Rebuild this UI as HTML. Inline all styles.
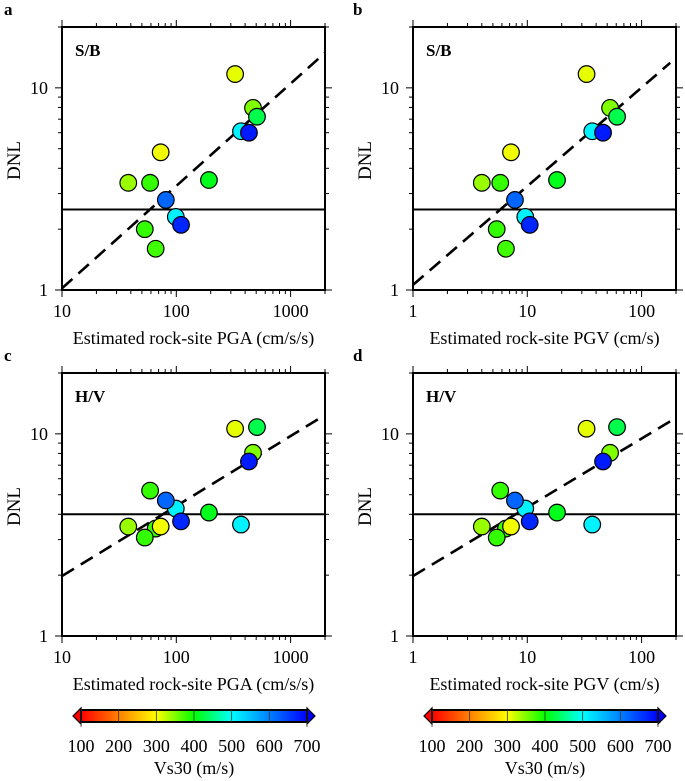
<!DOCTYPE html>
<html><head><meta charset="utf-8">
<style>
html,body{margin:0;padding:0;background:#fff;}
svg{display:block;}
svg text{font-family:"Liberation Serif","DejaVu Serif",serif;}
</style></head>
<body>
<svg id="fig" width="685" height="781" viewBox="0 0 685 781" xmlns="http://www.w3.org/2000/svg" font-family="Liberation Serif, serif"></svg>
<script>
// ---- data ----
const pga = [327, 469, 508, 368, 432, 73, 38, 59, 193, 81, 99, 110, 53, 66];
const pgv = [33, 53, 61, 37, 46, 7.2, 4.0, 5.8, 18.2, 7.8, 9.6, 10.5, 5.4, 6.5];
const dnlSB = [11.7, 7.96, 7.2, 6.1, 6.0, 4.8, 3.39, 3.39, 3.5, 2.79, 2.3, 2.1, 2.0, 1.6];
const dnlHV = [10.6, 8.06, 10.8, 3.56, 7.3, 3.48, 3.48, 5.24, 4.08, 4.68, 4.27, 3.69, 3.07, 3.4];
const vs30 = [310, 350, 430, 510, 680, 305, 340, 380, 410, 620, 510, 670, 380, 375];
const thrSB = 2.5, thrHV = 4.0;
const fitA = [[10, 1.02], [2000, 14.9]];
const fitB = [[1, 1.06], [178, 13.3]];
const fitC = [[10, 1.98], [2000, 12.4]];
const fitD = [[1, 1.98], [200, 12.0]];
const cbTicks = [100, 200, 300, 400, 500, 600, 700];

const NS = "http://www.w3.org/2000/svg";
const svg = document.getElementById('fig');
function mk(tag, attrs, parent) {
  const e = document.createElementNS(NS, tag);
  if (tag === 'text') e.setAttribute('font-family', '"Liberation Serif", serif');
  for (const k in attrs) e.setAttribute(k, attrs[k]);
  (parent || svg).appendChild(e);
  return e;
}
function cmap(v) {
  const stops = [[100,[255,0,0]],[200,[255,128,0]],[300,[255,255,0]],[400,[0,255,0]],[500,[0,255,255]],[600,[0,128,255]],[700,[0,0,255]]];
  v = Math.max(100, Math.min(700, v));
  for (let i = 0; i < stops.length - 1; i++) {
    const [a, ca] = stops[i], [b, cb] = stops[i+1];
    if (v <= b) { const t = (v - a) / (b - a);
      return 'rgb(' + ca.map((c, j) => Math.round(c + (cb[j] - c) * t)).join(',') + ')'; }
  }
  return 'rgb(0,0,255)';
}

function panel(o) {
  const L = o.left, T = o.top, W = 263, H = 263;
  const g = mk('g', {});
  
  
  const lx0 = Math.log10(o.xmin), lx1 = Math.log10(o.xmax);
  const ly0 = 0, ly1 = Math.log10(20);
  const X = v => L + (Math.log10(v) - lx0) / (lx1 - lx0) * W;
  const Y = v => T + H - (Math.log10(v) - ly0) / (ly1 - ly0) * H;
  for (let d = Math.round(lx0); d <= Math.ceil(lx1); d++) {
    for (let m = 1; m <= 9; m++) {
      const v = m * Math.pow(10, d);
      if (v < o.xmin - 1e-9 || v > o.xmax + 1e-9) continue;
      const x = X(v), len = m === 1 ? 7 : 4;
      mk('line', {x1:x, y1:T, x2:x, y2:T-len, stroke:'#000','stroke-width':1}, g);
      mk('line', {x1:x, y1:T+H, x2:x, y2:T+H+len, stroke:'#000','stroke-width':1}, g);
      if (m === 1) {
        const t = mk('text', {x:x, y:T+H+27, 'text-anchor':'middle','font-size':18}, g);
        t.textContent = String(v);
        
        
      }
    }
  }
  for (let d = 0; d <= 1; d++) {
    for (let m = 1; m <= 9; m++) {
      const v = m * Math.pow(10, d);
      if (v > 20) continue;
      const y = Y(v), len = m === 1 ? 7 : 4;
      mk('line', {x1:L, y1:y, x2:L-len, y2:y, stroke:'#000','stroke-width':1}, g);
      mk('line', {x1:L+W, y1:y, x2:L+W+len, y2:y, stroke:'#000','stroke-width':1}, g);
      if (m === 1) {
        const t = mk('text', {x:L-14, y:y+6, 'text-anchor':'end','font-size':18}, g);
        t.textContent = String(v);
        
        
      }
    }
  }
  const cid = 'clip-' + o.name;
  const cp = mk('clipPath', {id: cid}, g);
  mk('rect', {x:L, y:T, width:W, height:H}, cp);
  const inner = mk('g', {'clip-path':'url(#' + cid + ')'}, g);
  const hl = mk('line', {x1:L, x2:L+W, y1:Y(o.thr), y2:Y(o.thr), stroke:'#000','stroke-width':2}, inner);
  
  
  const fl = mk('line', {x1:X(o.fit[0][0]), y1:Y(o.fit[0][1]), x2:X(o.fit[1][0]), y2:Y(o.fit[1][1]), stroke:'#000','stroke-width':2.6,'stroke-dasharray':'14 8'}, inner);
  
  
  const order = [13, 12, 6, 7, 5, 8, 10, 9, 11, 0, 1, 2, 3, 4];
  order.forEach(i => {
    const c = mk('circle', {cx:X(o.xs[i]), cy:Y(o.ys[i]), r:8.3, fill:cmap(vs30[i]), stroke:'#000','stroke-width':1.2}, inner);
    
    
  });
  const fr = mk('rect', {x:L, y:T, width:W, height:H, fill:'none', stroke:'#000','stroke-width':2}, g);
  
  
  const tt = mk('text', {x:L+13, y:T+29, 'font-size':17,'font-weight':'bold'}, g);
  tt.textContent = o.tag;
  
  
  const pl = mk('text', {x:L-58+o.plx, y:T-12, 'font-size':17,'font-weight':'bold'}, g);
  pl.textContent = o.letter;
  
  
  const xl = mk('text', {x:L+W/2, y:T+H+54, 'text-anchor':'middle','font-size':18}, g);
  xl.textContent = o.xlabel;
  
  
  const yl = mk('text', {x:0, y:0, 'text-anchor':'middle','font-size':19, transform:'translate(' + (L-42) + ',' + (T+H/2+2) + ') rotate(-90)'}, g);
  yl.textContent = 'DNL';
  
  
}

panel({name:'panel-a', letter:'a', plx:0, left:62, top:27, xmin:10, xmax:2000, xs:pga, ys:dnlSB, thr:thrSB, fit:fitA, tag:'S/B', xlabel:'Estimated rock-site PGA (cm/s/s)'});
panel({name:'panel-b', letter:'b', plx:-2, left:413, top:27, xmin:1, xmax:200, xs:pgv, ys:dnlSB, thr:thrSB, fit:fitB, tag:'S/B', xlabel:'Estimated rock-site PGV (cm/s)'});
panel({name:'panel-c', letter:'c', plx:0, left:62, top:373, xmin:10, xmax:2000, xs:pga, ys:dnlHV, thr:thrHV, fit:fitC, tag:'H/V', xlabel:'Estimated rock-site PGA (cm/s/s)'});
panel({name:'panel-d', letter:'d', plx:-2, left:413, top:373, xmin:1, xmax:200, xs:pgv, ys:dnlHV, thr:thrHV, fit:fitD, tag:'H/V', xlabel:'Estimated rock-site PGV (cm/s)'});

function colorbar(L, id) {
  const W = 226, T = 710, H = 12;
  const g = mk('g', {});
  
  
  const defs = mk('defs', {}, g);
  const lg = mk('linearGradient', {id:id, x1:0, x2:1, y1:0, y2:0}, defs);
  cbTicks.forEach((v, i) => mk('stop', {offset:(i/(cbTicks.length-1)), 'stop-color':cmap(v)}, lg));
  mk('polygon', {points:(L-8)+','+(T+H/2)+' '+L+','+(T-2)+' '+L+','+(T+H+2), fill:cmap(100), stroke:'#000','stroke-width':1.2}, g);
  mk('polygon', {points:(L+W+8)+','+(T+H/2)+' '+(L+W)+','+(T-2)+' '+(L+W)+','+(T+H+2), fill:cmap(700), stroke:'#000','stroke-width':1.2}, g);
  mk('rect', {x:L, y:T, width:W, height:H, fill:'url(#'+id+')', stroke:'#000','stroke-width':2}, g);
  cbTicks.forEach((v, i) => {
    const x = L + (v - 100) / 600 * W;
    mk('line', {x1:x, x2:x, y1:T, y2:T+H+(i===0||i===6?5:0), stroke:'#333','stroke-width':0.8}, g);
    const t = mk('text', {x:x, y:T+42, 'text-anchor':'middle','font-size':18}, g);
    t.textContent = String(v);
    
    
  });
  const t = mk('text', {x:L+W/2, y:T+64, 'text-anchor':'middle','font-size':18}, g);
  t.textContent = 'Vs30 (m/s)';
  
  
}
colorbar(81, 'grad1');
colorbar(432, 'grad2');
</script>
</body></html>
